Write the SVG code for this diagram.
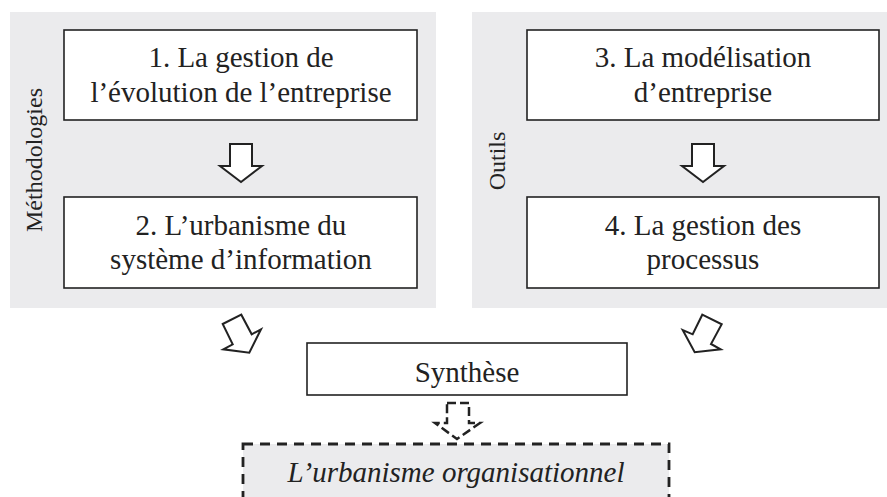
<svg xmlns="http://www.w3.org/2000/svg" width="887" height="497" viewBox="0 0 887 497">
<style>
.panel{fill:#ebebed;stroke:none}
.box{fill:#ffffff;stroke:#222222;stroke-width:1.6}
.t{font-family:"Liberation Serif","Times New Roman",serif;font-size:29px;fill:#222222;text-anchor:middle}
.side{font-family:"Liberation Serif","Times New Roman",serif;font-size:24px;fill:#222222;text-anchor:middle}
.arrow{fill:#ffffff;stroke:#222222;stroke-width:2;stroke-linejoin:miter}
.darrow{fill:#ffffff;stroke:#222222;stroke-width:2.5;stroke-dasharray:9 4}
.dbox{fill:#ebebed;stroke:#222222;stroke-width:2.8;stroke-dasharray:10 7}
</style>
<g id="panel-methodologies">
<rect class="panel" x="10" y="12" width="426" height="296"/>
<text class="side" transform="translate(42,160) rotate(-90)">Méthodologies</text>
</g>
<g id="panel-outils">
<rect class="panel" x="472" y="12" width="415" height="296"/>
<text class="side" transform="translate(505,161) rotate(-90)">Outils</text>
</g>
<g id="node1">
<rect class="box" x="64" y="30" width="353" height="90"/>
<text class="t" x="241" y="67">1. La gestion de</text>
<text class="t" x="241" y="102">l’évolution de l’entreprise</text>
</g>
<g id="node2">
<rect class="box" x="64" y="197" width="353" height="91"/>
<text class="t" x="241" y="235">2. L’urbanisme du</text>
<text class="t" x="241" y="269">système d’information</text>
</g>
<g id="node3">
<rect class="box" x="527" y="30" width="352" height="90"/>
<text class="t" x="703" y="67">3. La modélisation</text>
<text class="t" x="703" y="102">d’entreprise</text>
</g>
<g id="node4">
<rect class="box" x="527" y="197" width="352" height="91"/>
<text class="t" x="703" y="235">4. La gestion des</text>
<text class="t" x="703" y="269">processus</text>
</g>
<g id="synthese">
<rect class="box" x="307" y="343" width="320" height="52"/>
<text class="t" x="467" y="382">Synthèse</text>
</g>
<g id="urbanisme-organisationnel">
<rect class="dbox" x="243" y="444" width="426" height="70"/>
<text class="t" x="456" y="482" font-style="italic">L’urbanisme organisationnel</text>
</g>
<g id="connectors">
<polygon class="arrow" points="230,144 252,144 252,166 262,166 241,182 220,166 230,166"/>
<polygon class="arrow" points="692,144 714,144 714,166 724,166 703,182 682,166 692,166"/>
<polygon class="arrow" points="222.7,324 241.3,314.7 251.7,334.3 261,329.3 249.3,352.7 223.3,349.3 232.7,344.3"/>
<polygon class="arrow" points="702.3,314.7 721.7,324.3 711,344 720.7,349.3 694.7,352.3 682.7,330 692.7,334.3"/>
<polygon class="darrow" points="447,403 469,403 469,423 480,423 457,439 435,423 447,423"/>
</g>
</svg>
